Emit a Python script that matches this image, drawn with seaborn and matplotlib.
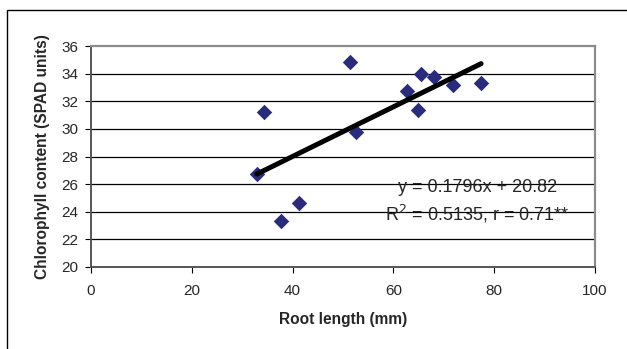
import matplotlib
matplotlib.use("Agg")
import matplotlib.pyplot as plt
import seaborn as sns
import numpy as np
import pandas as pd
from matplotlib.patches import Rectangle

root_length = [32.9, 34.3, 37.7, 41.3, 51.4, 52.6, 62.7, 64.9, 65.5, 68.0, 71.8, 77.4]
chlorophyll = [26.7, 31.2, 23.3, 24.6, 34.85, 29.8, 32.75, 31.4, 33.95, 33.75, 33.2, 33.3]
slope = 0.1796
intercept = 20.82
x_ticks = [0, 20, 40, 60, 80, 100]
y_ticks = [20, 22, 24, 26, 28, 30, 32, 34, 36]

sns.set_style("white")
plt.rcParams['font.family'] = ['Liberation Sans', 'DejaVu Sans']

fig = plt.figure(figsize=(6.27, 3.49), dpi=100)
fig.patch.set_facecolor("white")
fig.patches.append(Rectangle((7/627, -0.1), 1.2, 1 - 10/349 + 0.1, transform=fig.transFigure,
                             fill=False, edgecolor="black", linewidth=1.0, zorder=0))
ax = fig.add_axes([91/627, 1 - 267/349, 504/627, 221/349])

df = pd.DataFrame({"x": root_length, "y": chlorophyll})
for yt in y_ticks[1:-1]:
    ax.axhline(yt, color="black", linewidth=0.9, zorder=1)

sns.scatterplot(data=df, x="x", y="y", marker="D", s=62, color="#2B2B7C",
                edgecolor="#2B2B7C", linewidth=0, ax=ax, zorder=3)
xl = np.array([min(root_length), max(root_length)])
sns.lineplot(x=xl, y=slope * xl + intercept, color="black", linewidth=3.6, ax=ax, zorder=4)

ax.set_xlim(0, 100)
ax.set_ylim(20, 36)
ax.set_xticks(x_ticks)
ax.set_yticks(y_ticks)
ax.tick_params(axis="both", which="both", direction="out", length=4, width=0.8,
               labelsize=11, color="black", bottom=True, left=True)
ax.tick_params(axis="x", pad=8)
ax.tick_params(axis="y", pad=5)
for side in ["top", "right"]:
    ax.spines[side].set_color("#8C8C8C")
    ax.spines[side].set_linewidth(1.6)
for side in ["left", "bottom"]:
    ax.spines[side].set_color("#555555")
    ax.spines[side].set_linewidth(1.4)

ax.set_xlabel("Root length (mm)", fontsize=11.2, fontweight="bold", labelpad=10)
ax.set_ylabel("Chlorophyll content (SPAD units)", fontsize=11.2, fontweight="bold", labelpad=8)

ax.text(0.767, 0.36, "y = 0.1796x + 20.82", transform=ax.transAxes, ha="center", va="center",
        fontsize=13)
ax.text(0.767, 0.238, "R$^2$ = 0.5135, r = 0.71**", transform=ax.transAxes, ha="center",
        va="center", fontsize=13)

fig.savefig("out.png", dpi=100, facecolor="white")
